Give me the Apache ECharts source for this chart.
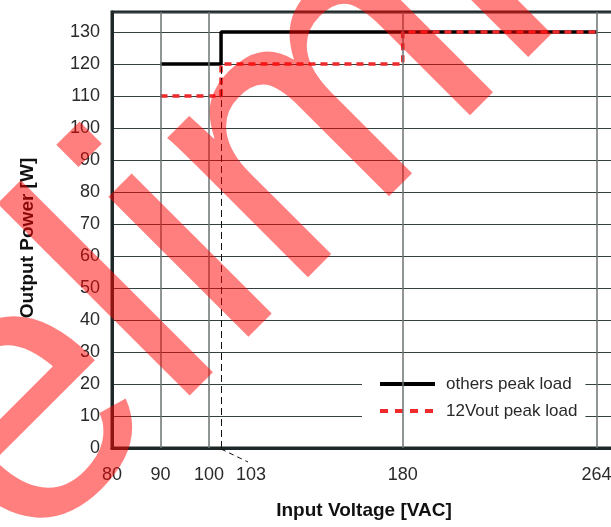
<!DOCTYPE html>
<html>
<head>
<meta charset="utf-8">
<script src="https://cdn.jsdelivr.net/npm/echarts@6/dist/echarts.min.js"></script>
<style>
html, body { margin: 0; padding: 0; background: #fff; }
#chart { width: 611px; height: 527px; }
</style>
</head>
<body>
<div id="chart"></div>
<script>
// the x axis of the original is not linear: 80..100 is drawn wider than the rest
const voltBreaks = [80, 100, 103, 180, 264];
const axisBreaks = [0, 20, 22.5, 60, 100];

const xTickVolts = [80, 90, 100, 103, 180, 264];
const xGridVolts = [90, 100, 180, 264];
const markVolt = 103; // dashed line + offset label
const markPower = 120;

const othersVolt = [90, 103, 103, 264];
const othersPower = [120, 120, 130, 130];
const v12Volt = [90, 103, 103, 180, 180, 264];
const v12Power = [110, 110, 120, 120, 130, 130];

const FONT = '"Liberation Sans", Arial, sans-serif';

// voltage -> axis position
function toPos(v) {
    for (let i = 1; i < voltBreaks.length; i++) {
        if (v <= voltBreaks[i]) {
            let t = (v - voltBreaks[i - 1]) / (voltBreaks[i] - voltBreaks[i - 1]);
            return axisBreaks[i - 1] + t * (axisBreaks[i] - axisBreaks[i - 1]);
        }
    }
    let n = voltBreaks.length - 1;
    return axisBreaks[n] + (v - voltBreaks[n]) * (axisBreaks[n] - axisBreaks[n - 1]) / (voltBreaks[n] - voltBreaks[n - 1]);
}
// axis position -> voltage
function toVolt(p) {
    for (let i = 1; i < axisBreaks.length; i++) {
        if (p <= axisBreaks[i] + 1e-9) {
            let t = (p - axisBreaks[i - 1]) / (axisBreaks[i] - axisBreaks[i - 1]);
            return voltBreaks[i - 1] + t * (voltBreaks[i] - voltBreaks[i - 1]);
        }
    }
    return voltBreaks[voltBreaks.length - 1];
}

const pairs = (xs, ys) => xs.map((v, i) => [toPos(v), ys[i]]);

let myChart = echarts.init(document.getElementById('chart'));

let option = {
    animation: false,
    backgroundColor: '#fff',
    grid: {
        left: 112,
        top: 12,
        width: 504,
        height: 436,
        outerBoundsMode: 'none',
        containLabel: false,
        show: true,
        borderColor: '#1e2828',
        borderWidth: 3,
        backgroundColor: 'transparent'
    },
    xAxis: {
        type: 'value',
        min: 0,
        max: 104,
        name: 'Input Voltage [VAC]',
        nameLocation: 'middle',
        nameGap: 53,
        nameTextStyle: { fontFamily: FONT, fontSize: 19, fontWeight: 'bold', color: '#111' },
        axisLine: { show: true, onZero: false, lineStyle: { color: '#1e2828', width: 3 } },
        axisTick: { show: false },
        splitLine: { show: false },
        axisLabel: {
            customValues: xTickVolts.map(toPos),
            margin: 18,
            fontFamily: FONT,
            fontSize: 18,
            color: '#2a2a2a',
            formatter: (val) => {
                let v = Math.round(toVolt(val));
                return v === markVolt ? '{off|' + v + '}' : String(v);
            },
            rich: {
                off: { fontFamily: FONT, fontSize: 18, color: '#2a2a2a', padding: [0, 0, 0, 60] }
            }
        }
    },
    yAxis: {
        type: 'value',
        min: 0,
        max: 136.25,
        interval: 10,
        name: 'Output Power [W]',
        nameLocation: 'middle',
        nameGap: 75,
        nameRotate: 90,
        nameTextStyle: { fontFamily: FONT, fontSize: 19, fontWeight: 'bold', color: '#111', padding: [0, 16, 0, 0] },
        axisLine: { show: true, lineStyle: { color: '#1e2828', width: 3 } },
        axisTick: { show: false },
        axisLabel: {
            margin: 12,
            showMaxLabel: false,
            fontFamily: FONT,
            fontSize: 18,
            color: '#2a2a2a'
        },
        splitLine: { show: true, lineStyle: { color: '#344040', width: 1 } }
    },
    legend: {
        data: [
            { name: 'others peak load' },
            { name: '12Vout peak load', lineStyle: { type: [8, 7] } }
        ],
        orient: 'vertical',
        left: 362,
        top: 368,
        align: 'left',
        itemWidth: 55,
        itemHeight: 14,
        itemGap: 7,
        padding: [6, 8, 4, 16],
        backgroundColor: '#fff',
        itemStyle: { opacity: 0 },
        lineStyle: { width: 4 },
        textStyle: { fontFamily: FONT, fontSize: 17, lineHeight: 20, color: '#2a2a2a', padding: [0, 0, 0, 6] }
    },
    series: [
        {
            // vertical grid lines and the 103 V marker
            name: 'grid',
            type: 'line',
            data: [],
            z: 1,
            silent: true,
            markLine: {
                silent: true,
                symbol: 'none',
                label: { show: false },
                lineStyle: { color: '#6b7373', width: 1.5, type: 'solid' },
                data: xGridVolts.map(v => ({ xAxis: toPos(v) })).concat([
                    [
                        { coord: [toPos(markVolt), 0], lineStyle: { color: '#111', width: 1, type: [7, 4] } },
                        { coord: [toPos(markVolt), markPower] }
                    ]
                ])
            }
        },
        {
            name: 'others peak load',
            type: 'line',
            data: pairs(othersVolt, othersPower),
            symbol: 'none',
            showSymbol: false,
            z: 3,
            color: '#000',
            lineStyle: { color: '#000', width: 3.5 }
        },
        {
            name: '12Vout peak load',
            type: 'line',
            data: pairs(v12Volt, v12Power),
            symbol: 'none',
            showSymbol: false,
            z: 4,
            color: '#ee2a2a',
            lineStyle: { color: '#ee2a2a', width: 3.5, type: [7, 5] }
        }
    ],
    graphic: [
        {
            // "Preliminary" watermark
            type: 'text',
            id: 'wm',
            x: -314,
            y: 753,
            rotation: Math.PI / 4,
            z: 100,
            silent: true,
            style: {
                text: 'Preliminary',
                fontFamily: '"Liberation Sans", Arial, sans-serif',
                fontSize: 375,
                fill: 'rgba(255,0,0,0.5)',
                textAlign: 'left',
                textVerticalAlign: 'middle'
            }
        }
    ]
};

myChart.setOption(option);

// small dashed leader from the 103 tick to its shifted label
let p = myChart.convertToPixel({ gridIndex: 0 }, [toPos(markVolt), 0]);
myChart.setOption({
    graphic: [
        {
            type: 'line',
            id: 'leader',
            z: 10,
            silent: true,
            shape: { x1: p[0], y1: p[1] + 1, x2: p[0] + 27, y2: p[1] + 14 },
            style: { stroke: '#111', lineWidth: 1, lineDash: [5, 4] }
        }
    ]
});
</script>
</body>
</html>
